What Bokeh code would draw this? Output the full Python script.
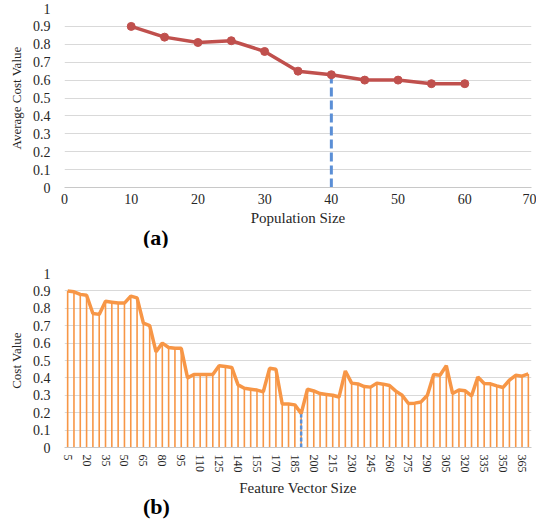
from bokeh.plotting import figure
from bokeh.models import Range1d, FixedTicker, NumeralTickFormatter, Div
from bokeh.layouts import column
from bokeh.embed import file_html
from bokeh.resources import INLINE

# ---------------- data ----------------
pop_sizes = [10, 15, 20, 25, 30, 35, 40, 45, 50, 55, 60]
avg_cost = [0.90, 0.84, 0.81, 0.82, 0.76, 0.65, 0.63, 0.60, 0.60, 0.58, 0.58]
selected_pop = 40

feat_sizes = list(range(5, 371, 5))
cost_values = [
    0.90, 0.895, 0.88, 0.875, 0.77, 0.765, 0.84, 0.835, 0.83, 0.83,
    0.87, 0.86, 0.715, 0.70, 0.55, 0.60, 0.575, 0.57, 0.57, 0.40,
    0.42, 0.42, 0.42, 0.42, 0.47, 0.465, 0.46, 0.36, 0.34, 0.335,
    0.33, 0.32, 0.455, 0.45, 0.25, 0.25, 0.245, 0.195, 0.335, 0.325,
    0.31, 0.305, 0.30, 0.29, 0.44, 0.37, 0.365, 0.35, 0.347, 0.37,
    0.364, 0.356, 0.324, 0.30, 0.253, 0.255, 0.262, 0.30, 0.42, 0.415,
    0.47, 0.31, 0.33, 0.326, 0.297, 0.405, 0.368, 0.366, 0.354, 0.345,
    0.387, 0.415, 0.41, 0.423,
]
selected_feat = 190

x_ticks_a = [0, 10, 20, 30, 40, 50, 60, 70]
y_ticks = [0, 0.1, 0.2, 0.3, 0.4, 0.5, 0.6, 0.7, 0.8, 0.9, 1.0]
feat_ticks = feat_sizes[::3]

FONT = "Liberation Serif"
TXT = "#262626"
RED = "#C0504D"
ORANGE = "#F79646"
BLUE = "#5B8FD6"


def style(p, xlabel, ylabel):
    p.xgrid.visible = False
    p.ygrid.grid_line_color = "#d9d9d9"
    p.ygrid.grid_line_width = 1
    p.outline_line_color = None
    p.xaxis.axis_label = xlabel
    p.yaxis.axis_label = ylabel
    for ax in (p.xaxis[0], p.yaxis[0]):
        ax.major_tick_line_color = None
        ax.minor_tick_line_color = None
        ax.major_tick_out = 0
        ax.major_tick_in = 0
        ax.minor_tick_out = 0
        ax.major_label_text_font = FONT
        ax.axis_label_text_font = FONT
        ax.axis_label_text_font_style = "normal"
        ax.major_label_text_color = TXT
        ax.axis_label_text_color = TXT
        ax.major_label_text_font_size = "14px"
    p.yaxis.axis_line_color = None
    p.xaxis.axis_line_color = "#c8c8c8"
    p.yaxis.ticker = FixedTicker(ticks=y_ticks)
    p.yaxis.formatter = NumeralTickFormatter(format="0.[0]")
    p.yaxis.axis_label_text_font_size = "13px"
    p.xaxis.axis_label_text_font_size = "15px"
    p.yaxis.major_label_standoff = 14
    p.yaxis.axis_label_standoff = 6


def panel_div(text):
    return Div(text=text, width=536, height=18, margin=(0, 0, 0, 0),
               styles={"font-family": FONT, "font-size": "22px", "font-weight": "bold",
                       "line-height": "18px", "text-indent": "143px", "color": "black",
                       "overflow": "visible", "white-space": "nowrap"})


# ---------------- (a) ----------------
pa = figure(width=536, height=229, x_range=Range1d(0, 70), y_range=Range1d(0, 1),
            output_backend="svg", toolbar_location=None,
            min_border_left=64, min_border_right=5, min_border_top=8, min_border_bottom=42)
style(pa, "Population Size", "Average Cost Value")
pa.xaxis.ticker = FixedTicker(ticks=x_ticks_a)
pa.xaxis.major_label_standoff = 6
pa.xaxis.axis_label_standoff = 3

sel_idx = pop_sizes.index(selected_pop)
pa.segment(x0=[selected_pop], y0=[0], x1=[selected_pop], y1=[avg_cost[sel_idx]],
           line_color=BLUE, line_width=3, line_dash="9 4")
pa.line(pop_sizes, avg_cost, line_color=RED, line_width=3.5)
pa.scatter(pop_sizes, avg_cost, size=8, fill_color=RED, line_color=RED)

# ---------------- (b) ----------------
pb = figure(width=536, height=251, x_range=Range1d(feat_sizes[0] - 2.5, feat_sizes[-1] + 2.5),
            y_range=Range1d(0, 1), output_backend="svg", toolbar_location=None,
            min_border_left=64, min_border_right=0, min_border_top=26, min_border_bottom=50)
style(pb, "Feature Vector Size", "Cost Value")
pb.xaxis.ticker = FixedTicker(ticks=feat_ticks)
pb.xaxis.major_label_orientation = "vertical"
pb.xaxis.major_label_text_font_size = "12px"
pb.xaxis.major_label_standoff = 7
pb.xaxis.axis_label_standoff = 4

pb.segment(x0=feat_sizes, y0=[0] * len(feat_sizes), x1=feat_sizes, y1=cost_values,
           line_color=ORANGE, line_width=1.6)
sel_b = feat_sizes.index(selected_feat)
pb.segment(x0=[selected_feat], y0=[0], x1=[selected_feat], y1=[cost_values[sel_b]],
           line_color=BLUE, line_width=2.5, line_dash="4 2")
pb.line(feat_sizes, cost_values, line_color=ORANGE, line_width=3.5)

layout = column(pa, panel_div("(a)"), pb, panel_div("(b)"), spacing=0)
open("out.html", "w").write(file_html(layout, INLINE))
